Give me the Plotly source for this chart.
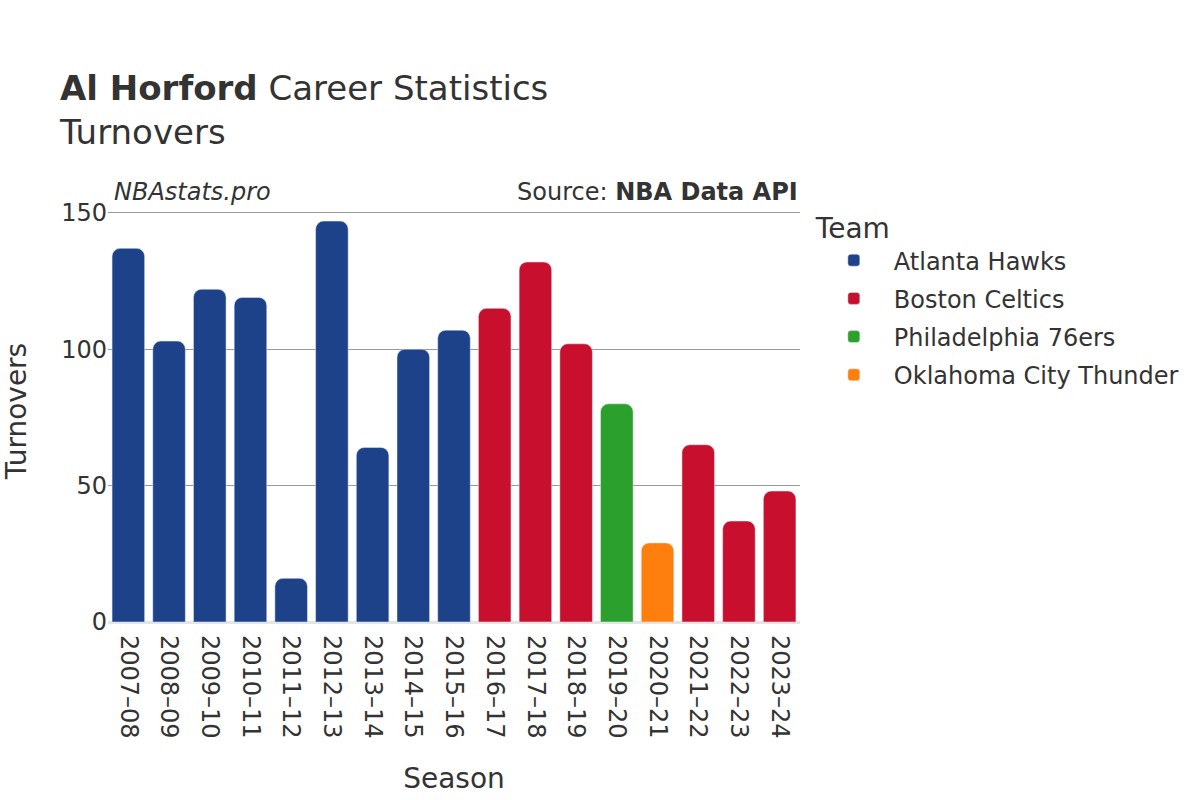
import plotly.graph_objects as go

seasons = ["2007–08", "2008–09", "2009–10", "2010–11", "2011–12", "2012–13",
           "2013–14", "2014–15", "2015–16", "2016–17", "2017–18", "2018–19",
           "2019–20", "2020–21", "2021–22", "2022–23", "2023–24"]
teams = ["Atlanta Hawks", "Atlanta Hawks", "Atlanta Hawks", "Atlanta Hawks",
         "Atlanta Hawks", "Atlanta Hawks", "Atlanta Hawks", "Atlanta Hawks",
         "Atlanta Hawks", "Boston Celtics", "Boston Celtics", "Boston Celtics",
         "Philadelphia 76ers", "Oklahoma City Thunder", "Boston Celtics",
         "Boston Celtics", "Boston Celtics"]
turnovers = [137, 103, 122, 119, 16, 147, 64, 100, 107, 115, 132, 102, 80, 29, 65, 37, 48]

team_order = ["Atlanta Hawks", "Boston Celtics", "Philadelphia 76ers", "Oklahoma City Thunder"]
team_colors = {
    "Atlanta Hawks": "#1D428A",
    "Boston Celtics": "#C8102E",
    "Philadelphia 76ers": "#2CA02C",
    "Oklahoma City Thunder": "#FF7F0E",
}

FONT = "DejaVu Sans"
TXT = "#333333"

fig = go.Figure()
for team in team_order:
    xs = [s for s, t in zip(seasons, teams) if t == team]
    ys = [v for v, t in zip(turnovers, teams) if t == team]
    fig.add_trace(go.Bar(x=xs, y=ys, name=team, legendgroup=team,
                         marker_color=team_colors[team]))

fig.update_layout(
    width=1200, height=800,
    barmode="relative", bargap=0.2, barcornerradius=8,
    plot_bgcolor="white", paper_bgcolor="white",
    font=dict(family=FONT, size=24, color=TXT),
    margin=dict(l=108, r=400, t=200, b=178, autoexpand=False),
    title=dict(text="<b>Al Horford</b> Career Statistics<br>Turnovers",
               x=0.05, xanchor="left", y=0.875, yanchor="top",
               font=dict(size=34, color=TXT)),
    legend=dict(title=dict(text="Team", font=dict(size=28)),
                x=1.02, xanchor="left", y=0.996, yanchor="top",
                font=dict(size=24), tracegroupgap=4, itemwidth=70),
    xaxis=dict(title=dict(text="Season", font=dict(size=28), standoff=30),
               categoryorder="array", categoryarray=seasons,
               tickangle=90, showgrid=False, automargin=False,
               ticklabelstandoff=12),
    yaxis=dict(title=dict(text="Turnovers", font=dict(size=28), standoff=40),
               showgrid=True, gridcolor="#999999", gridwidth=1,
               zeroline=True, zerolinecolor="#E5E5E5", zerolinewidth=3,
               tickvals=[0, 50, 100, 150], automargin=False),
)

fig.add_annotation(text="<i>NBAstats.pro</i>", xref="paper", yref="paper",
                   x=0.0, y=1.0, xanchor="left", yanchor="bottom",
                   xshift=4, yshift=-8,
                   showarrow=False, font=dict(size=24, color=TXT))
fig.add_annotation(text="Source: <b>NBA Data API</b>", xref="paper", yref="paper",
                   x=1.0, y=1.0, xanchor="right", yanchor="bottom",
                   xshift=0, yshift=-8,
                   showarrow=False, font=dict(size=24, color=TXT))

# page has a default 8px body margin; drop it so the figure sits at 0,0
fig.write_html("out.html", config={"displayModeBar": False},
               post_script="document.body.style.margin='0';")
